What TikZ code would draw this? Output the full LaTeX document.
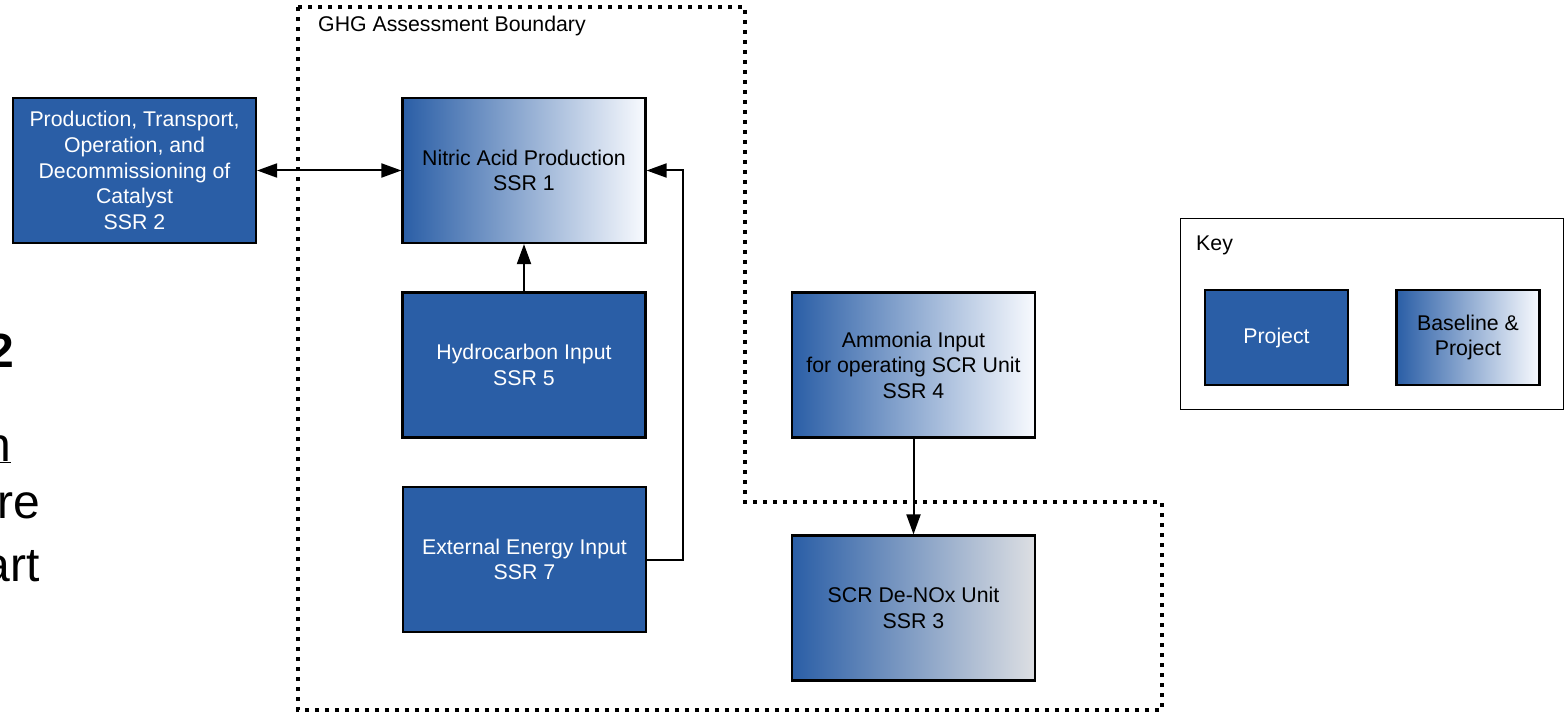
\documentclass[tikz,border=0pt]{standalone}
\usepackage{fontspec}
\setmainfont{Liberation Sans}
\usetikzlibrary{arrows.meta}

\definecolor{projblue}{RGB}{42,94,166}
\definecolor{fadewhite}{RGB}{248,250,254}
\definecolor{fadegray}{RGB}{221,223,227}

\begin{document}
\begin{tikzpicture}[x=1pt,y=-1pt,
  lbl/.style={font=\fontsize{21.3}{25.6}\selectfont},
  box/.style={lbl, draw=black, line width=2.2pt, minimum width=243pt,
    minimum height=145pt, inner sep=0pt, align=center},
  keybox/.style={box, minimum width=143pt, minimum height=95pt},
  project/.style={fill=projblue, text=white},
  mixed/.style={left color=projblue, right color=fadewhite, text=black},
  link/.style={line width=2pt, -{Triangle[length=20pt,width=14pt]}},
  boundary/.style={line width=4.4pt, dash pattern=on 4.4pt off 5.6pt},
  frag/.style={anchor=base east, inner sep=0pt, font=\fontsize{48}{58}\selectfont}]

  % page area
  \fill[white] (0,0) rectangle (1566,714);
  \useasboundingbox (0,0) rectangle (1566,714);

  % partly visible heading text at the left edge
  \node[frag, font=\fontsize{48}{58}\selectfont\bfseries] (fragA) at (14,367) {2};
  \node[frag] (fragB) at (11,461) {\underline{n}};
  \node[frag] (fragC) at (40,518) {re};
  \node[frag] (fragD) at (40,581) {art};

  % assessment boundary
  \draw[boundary] (298,7) -- (745,7) -- (745,502) -- (1162,502)
    -- (1162,710) -- (298,710) -- cycle;
  \node[lbl, anchor=west, inner sep=0pt] (bndlabel) at (318,26) {GHG Assessment Boundary};

  % sources, sinks and reservoirs
  \node[box, project] (ssr2) at (134.5,170.5)
    {Production, Transport,\\Operation, and\\Decommissioning of\\Catalyst\\SSR 2};
  \node[box, mixed] (ssr1) at (524,170.5) {Nitric Acid Production\\SSR 1};
  \node[box, project] (ssr5) at (524,365) {Hydrocarbon Input\\SSR 5};
  \node[box, project] (ssr7) at (524.5,559.5) {External Energy Input\\SSR 7};
  \node[box, mixed] (ssr4) at (913.5,365) {Ammonia Input\\ for operating SCR Unit\\SSR 4};
  \node[box, mixed, right color=fadegray] (ssr3) at (913.5,608) {SCR De-NOx Unit\\SSR 3};

  % flows
  \draw[link, {Triangle[length=20pt,width=14pt]}-{Triangle[length=20pt,width=14pt]}]
    (ssr2.east) -- (ssr1.west);
  \draw[link] (ssr5.north) -- (ssr1.south);
  \coordinate (bend) at (683,170.5);
  \draw[link] (ssr7.east) -| (bend) -- (ssr1.east);
  \draw[link] (ssr4.south) -- (ssr3.north);

  % key
  \node[draw=black, line width=1.6pt, minimum width=383pt, minimum height=191pt,
    inner sep=0pt] (key) at (1372,314) {};
  \node[lbl, anchor=west, inner sep=0pt] (keytitle) at (1196,245) {Key};
  \node[keybox, project] (keyproj) at (1276.5,337.5) {Project};
  \node[keybox, mixed] (keymix) at (1468,337.5) {Baseline \&\\Project};
\end{tikzpicture}
\end{document}
